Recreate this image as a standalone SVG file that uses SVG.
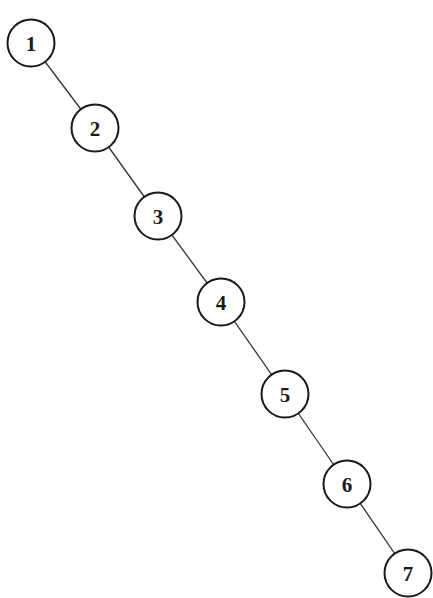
<svg xmlns="http://www.w3.org/2000/svg" width="433" height="598" viewBox="0 0 433 598">
<style>
.n circle{fill:#fff;stroke:#1a1a1a;stroke-width:2}
.n text{font-family:"Liberation Serif",serif;font-size:21px;font-weight:bold;fill:#1a1a1a;text-anchor:middle;dominant-baseline:central}
.e line{stroke:#333;stroke-width:1.3}
</style>
<rect width="433" height="598" fill="#fff"/>
<g id="connectors" class="e">
<line x1="31" y1="43" x2="95" y2="128"/>
<line x1="95" y1="128" x2="158" y2="216"/>
<line x1="158" y1="216" x2="221" y2="302"/>
<line x1="221" y1="302" x2="285" y2="394"/>
<line x1="285" y1="394" x2="347" y2="484"/>
<line x1="347" y1="484" x2="408" y2="573"/>
</g>
<g id="node1" class="n"><circle cx="31" cy="43" r="23.5"/><text x="31" y="44">1</text></g>
<g id="node2" class="n"><circle cx="95" cy="128" r="23.5"/><text x="95" y="129">2</text></g>
<g id="node3" class="n"><circle cx="158" cy="216" r="23.5"/><text x="158" y="217">3</text></g>
<g id="node4" class="n"><circle cx="221" cy="302" r="23.5"/><text x="221" y="303">4</text></g>
<g id="node5" class="n"><circle cx="285" cy="394" r="23.5"/><text x="285" y="395">5</text></g>
<g id="node6" class="n"><circle cx="347" cy="484" r="23.5"/><text x="347" y="485">6</text></g>
<g id="node7" class="n"><circle cx="408" cy="573" r="23.5"/><text x="408" y="574">7</text></g>
</svg>
